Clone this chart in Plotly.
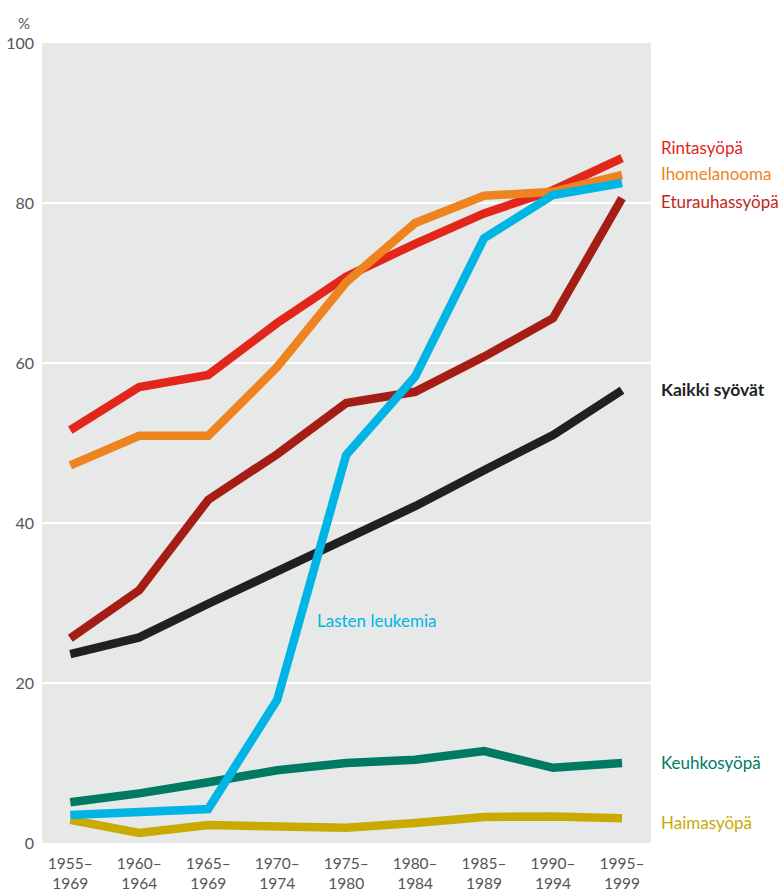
import plotly.graph_objects as go

periods = ["1955–<br>1969", "1960–<br>1964", "1965–<br>1969", "1970–<br>1974", "1975–<br>1980",
           "1980–<br>1984", "1985–<br>1989", "1990–<br>1994", "1995–<br>1999"]

rintasyopa = [51.6, 57.0, 58.5, 65.0, 70.8, 74.9, 78.7, 81.6, 85.6]
ihomelanooma = [47.2, 50.9, 50.9, 59.5, 70.1, 77.5, 80.9, 81.4, 83.5]
eturauhassyopa = [25.6, 31.6, 42.9, 48.6, 55.0, 56.4, 60.8, 65.6, 80.6]
kaikki = [23.6, 25.7, 29.9, 34.0, 38.1, 42.1, 46.6, 51.0, 56.6]
leukemia = [3.5, 3.8, 4.25, 17.9, 48.5, 58.3, 75.6, 81.0, 82.5]
keuhkosyopa = [5.1, 6.2, 7.6, 9.1, 10.0, 10.4, 11.5, 9.4, 10.0]
haimasyopa = [2.9, 1.25, 2.25, 2.2, 1.9, 2.5, 3.25, 3.3, 3.1]

y_ticks = [0, 20, 40, 60, 80, 100]

series = [
    ("Haimasyöpä", haimasyopa, "#c8aa00"),
    ("Keuhkosyöpä", keuhkosyopa, "#007a63"),
    ("Kaikki syövät", kaikki, "#231f20"),
    ("Eturauhassyöpä", eturauhassyopa, "#a51e16"),
    ("Rintasyöpä", rintasyopa, "#e3261b"),
    ("Ihomelanooma", ihomelanooma, "#ee8420"),
    ("Lasten leukemia", leukemia, "#00b5e5"),
]

xs = list(range(len(periods)))
fig = go.Figure()
for name, vals, col in series:
    fig.add_trace(go.Scatter(x=xs, y=vals, mode="lines", name=name,
                             line=dict(color=col, width=8.5), showlegend=False,
                             hoverinfo="skip"))

FONT = "Lato"
labels = [
    ("Rintasyöpä", 147, "#e3261b", False),
    ("Ihomelanooma", 174, "#ee8420", False),
    ("Eturauhassyöpä", 201, "#c0271c", False),
    ("Kaikki syövät", 389, "#231f20", True),
    ("Keuhkosyöpä", 762, "#007a63", False),
    ("Haimasyöpä", 822, "#c8aa00", False),
]
L, T, W, H = 42, 43, 609, 800
for text, ypix, col, bold in labels:
    fig.add_annotation(xref="paper", yref="paper", x=(659 - L) / W, y=(T + H - ypix) / H,
                       text=f"<b>{text}</b>" if bold else text, showarrow=False,
                       xanchor="left", yanchor="middle",
                       font=dict(family=FONT, size=17.5 if bold else 17, color=col))
fig.add_annotation(xref="paper", yref="paper", x=(315 - L) / W, y=(T + H - 621) / H,
                   text="Lasten leukemia", showarrow=False, xanchor="left", yanchor="middle",
                   font=dict(family=FONT, size=17, color="#00b5e5"))
fig.add_annotation(xref="paper", yref="paper", x=(24 - L) / W, y=(T + H - 23) / H,
                   text="%", showarrow=False, xanchor="center", yanchor="middle",
                   font=dict(family=FONT, size=15, color="#555555"))

fig.update_layout(
    width=782, height=895,
    margin=dict(l=L, r=782 - L - W, t=T, b=895 - T - H, pad=0, autoexpand=False),
    paper_bgcolor="white", plot_bgcolor="#e7e9e8",
    font=dict(family=FONT, size=16, color="#555555"),
)
fig.update_xaxes(range=[-0.41, 8.42], tickvals=xs, ticktext=periods, showgrid=False,
                 zeroline=False, showline=False, ticks="", ticklabelstandoff=9,
                 automargin=False,
                 tickfont=dict(family=FONT, size=15.5, color="#555555"))
fig.update_yaxes(range=[0, 100], tickvals=y_ticks, ticktext=[str(v) for v in y_ticks],
                 showgrid=True, gridcolor="white", gridwidth=1.5, zeroline=False,
                 showline=False, ticks="", ticklabelstandoff=7, automargin=False,
                 tickfont=dict(family=FONT, size=16, color="#555555"))

fig.write_html("out.html")
